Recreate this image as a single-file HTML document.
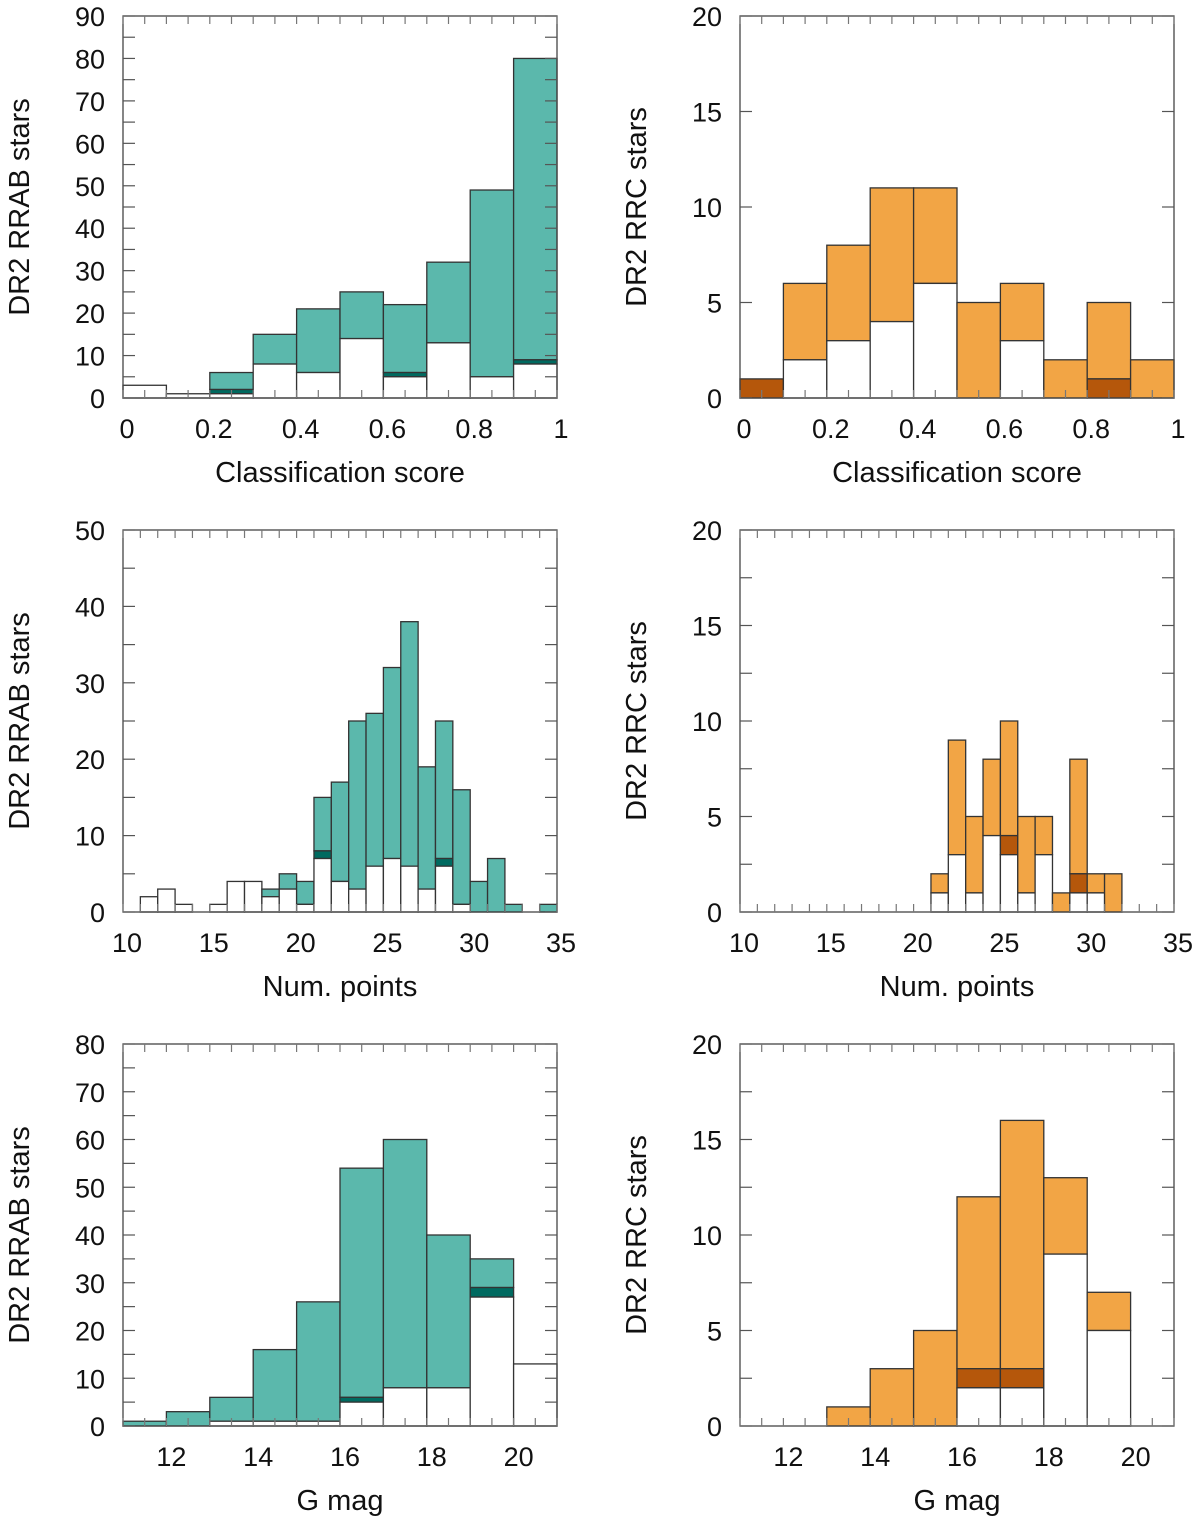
<!DOCTYPE html>
<html><head><meta charset="utf-8"><style>
body{margin:0;background:#fff;}
svg text{font-family:"Liberation Sans",sans-serif;fill:#111;}
</style></head><body>
<svg id="fig" width="1200" height="1524" xmlns="http://www.w3.org/2000/svg"></svg>
<script>
// Panel 1: RRAB classification score
const p1Bins=[0,0.1,0.2,0.3,0.4,0.5,0.6,0.7,0.8,0.9];
const p1Total=[3,1,6,15,21,25,22,32,49,80];
const p1White=[3,1,1,8,6,14,5,13,5,8];
const p1Dark=[0,0,1,0,0,0,1,0,0,1];
// Panel 2: RRC classification score
const p2Bins=[0,0.1,0.2,0.3,0.4,0.5,0.6,0.7,0.8,0.9];
const p2Total=[1,6,8,11,11,5,6,2,5,2];
const p2White=[0,2,3,4,6,0,3,0,0,0];
const p2Dark=[1,0,0,0,0,0,0,0,1,0];
// Panel 3: RRAB num points
const p3Bins=[11,12,13,14,15,16,17,18,19,20,21,22,23,24,25,26,27,28,29,30,31,32,33,34];
const p3Total=[2,3,1,0,1,4,4,3,5,4,15,17,25,26,32,38,19,25,16,4,7,1,0,1];
const p3White=[2,3,1,0,1,4,4,2,3,1,7,4,3,6,7,6,3,6,1,0,0,0,0,0];
const p3Dark=[0,0,0,0,0,0,0,0,0,0,1,0,0,0,0,0,0,1,0,0,0,0,0,0];
// Panel 4: RRC num points
const p4Bins=[21,22,23,24,25,26,27,28,29,30,31];
const p4Total=[2,9,5,8,10,5,5,1,8,2,2];
const p4White=[1,3,1,4,3,1,3,0,1,1,0];
const p4Dark=[0,0,0,0,1,0,0,0,1,0,0];
// Panel 5: RRAB G mag
const p5Bins=[11,12,13,14,15,16,17,18,19,20];
const p5Total=[1,3,6,16,26,54,60,40,35,13];
const p5White=[0,0,1,1,1,5,8,8,27,13];
const p5Dark=[0,0,0,0,0,1,0,0,2,0];
// Panel 6: RRC G mag
const p6Bins=[13,14,15,16,17,18,19];
const p6Total=[1,3,5,12,16,13,7];
const p6White=[0,0,0,2,2,9,5];
const p6Dark=[0,0,0,1,1,0,0];

const xTicks1=[0,0.2,0.4,0.6,0.8,1];
const xTickLabels1=["0","0.2","0.4","0.6","0.8","1"];
const xTicks2=[10,15,20,25,30,35];
const xTicks3=[12,14,16,18,20];

const NS="http://www.w3.org/2000/svg";
const svg=document.getElementById('fig');
function el(tag,attrs,parent){const e=document.createElementNS(NS,tag);for(const k in attrs)e.setAttribute(k,attrs[k]);(parent||svg).appendChild(e);return e;}

function panel(o){
  const g=el('g',{});
  
  
  const X=v=>o.x0+(v-o.xmin)/(o.xmax-o.xmin)*(o.x1-o.x0);
  const Y=v=>o.y1-(v-o.ymin)/(o.ymax-o.ymin)*(o.y1-o.y0);
  o.bins.forEach((b,i)=>{
    const xa=X(b),xb=X(b+o.bw);
    const t=o.total[i],w=o.white[i],d=o.dark[i];
    if(t>w+d){const r=el('rect',{x:xa,y:Y(t),width:xb-xa,height:Y(w+d)-Y(t),fill:o.fill,stroke:'#333','stroke-width':1.3},g);
      }
    if(d>0){const r=el('rect',{x:xa,y:Y(w+d),width:xb-xa,height:Y(w)-Y(w+d),fill:o.dfill,stroke:'#333','stroke-width':1.3},g);
      }
    if(w>0){const r=el('rect',{x:xa,y:Y(w),width:xb-xa,height:Y(0)-Y(w),fill:'#fff',stroke:'#333','stroke-width':1.3},g);
      }
  });
  const f=el('rect',{x:o.x0,y:o.y0,width:o.x1-o.x0,height:o.y1-o.y0,fill:'none',stroke:'#444','stroke-width':1.3},g);
  
  for(let v=o.ymin;v<=o.ymax+1e-9;v+=o.yminor){
    const y=Y(v);
    el('line',{x1:o.x0,x2:o.x0+12,y1:y,y2:y,stroke:'#555','stroke-width':1.2},g);
    el('line',{x1:o.x1-12,x2:o.x1,y1:y,y2:y,stroke:'#555','stroke-width':1.2},g);
  }
  for(let v=o.ymin;v<=o.ymax+1e-9;v+=o.ystep){
    const t=el('text',{x:o.x0-18,y:Y(v)+10,'text-anchor':'end','font-size':27},g);t.textContent=String(v);
    
  }
  for(let v=o.xmin;v<=o.xmax+1e-9;v+=o.xminor){
    const x=X(v);
    el('line',{x1:x,x2:x,y1:o.y1,y2:o.y1-8,stroke:'#777','stroke-width':1.2},g);
    el('line',{x1:x,x2:x,y1:o.y0,y2:o.y0+8,stroke:'#777','stroke-width':1.2},g);
  }
  o.xticks.forEach((v,i)=>{
    const t=el('text',{x:X(v)+o.xlabOff,y:o.y1+40,'text-anchor':'middle','font-size':27},g);
    t.textContent=o.xlabels?o.xlabels[i]:String(v);
    
  });
  const xt=el('text',{x:(o.x0+o.x1)/2,y:o.y1+84,'text-anchor':'middle','font-size':29},g);
  xt.textContent=o.xtitle;
  
  const yc=(o.y0+o.y1)/2, yx=o.x0-94;
  const yt=el('text',{x:yx,y:yc,'text-anchor':'middle','font-size':29,transform:`rotate(-90 ${yx} ${yc})`},g);
  yt.textContent=o.ytitle;
  
}
const T='#5BB8AC',TD='#006A60',O='#F2A545',OD='#B5570B';
const L={x0:123,x1:557},R={x0:740,x1:1174};
const r1={y0:16,y1:398},r2={y0:530,y1:912},r3={y0:1044,y1:1426};
panel({name:'rrab-score-panel',tag:'p1',...L,...r1,xmin:0,xmax:1,ymin:0,ymax:90,ystep:10,yminor:5,xminor:0.05,xticks:xTicks1,xlabels:xTickLabels1,xlabOff:4,bw:0.1,bins:p1Bins,total:p1Total,white:p1White,dark:p1Dark,fill:T,dfill:TD,xtitle:'Classification score',ytitle:'DR2 RRAB stars'});
panel({name:'rrc-score-panel',tag:'p2',...R,...r1,xmin:0,xmax:1,ymin:0,ymax:20,ystep:5,yminor:5,xminor:0.05,xticks:xTicks1,xlabels:xTickLabels1,xlabOff:4,bw:0.1,bins:p2Bins,total:p2Total,white:p2White,dark:p2Dark,fill:O,dfill:OD,xtitle:'Classification score',ytitle:'DR2 RRC stars'});
panel({name:'rrab-npoints-panel',tag:'p3',...L,...r2,xmin:10,xmax:35,ymin:0,ymax:50,ystep:10,yminor:5,xminor:1,xticks:xTicks2,xlabOff:4,bw:1,bins:p3Bins,total:p3Total,white:p3White,dark:p3Dark,fill:T,dfill:TD,xtitle:'Num. points',ytitle:'DR2 RRAB stars'});
panel({name:'rrc-npoints-panel',tag:'p4',...R,...r2,xmin:10,xmax:35,ymin:0,ymax:20,ystep:5,yminor:2.5,xminor:1,xticks:xTicks2,xlabOff:4,bw:1,bins:p4Bins,total:p4Total,white:p4White,dark:p4Dark,fill:O,dfill:OD,xtitle:'Num. points',ytitle:'DR2 RRC stars'});
panel({name:'rrab-gmag-panel',tag:'p5',...L,...r3,xmin:11,xmax:21,ymin:0,ymax:80,ystep:10,yminor:5,xminor:0.5,xticks:xTicks3,xlabOff:5,bw:1,bins:p5Bins,total:p5Total,white:p5White,dark:p5Dark,fill:T,dfill:TD,xtitle:'G mag',ytitle:'DR2 RRAB stars'});
panel({name:'rrc-gmag-panel',tag:'p6',...R,...r3,xmin:11,xmax:21,ymin:0,ymax:20,ystep:5,yminor:2.5,xminor:0.5,xticks:xTicks3,xlabOff:5,bw:1,bins:p6Bins,total:p6Total,white:p6White,dark:p6Dark,fill:O,dfill:OD,xtitle:'G mag',ytitle:'DR2 RRC stars'});
</script>
</body></html>
